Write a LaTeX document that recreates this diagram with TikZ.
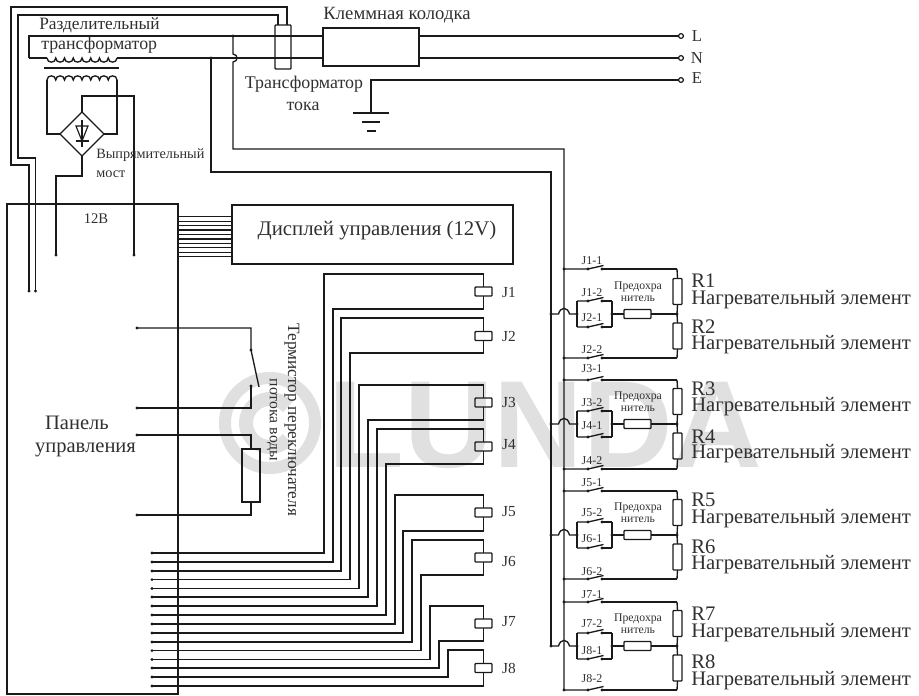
\documentclass[tikz,border=0pt]{standalone}
\usepackage{fontspec}
\usetikzlibrary{shapes.geometric}
\setmainfont{Liberation Serif}
\newfontfamily\wmfont{Liberation Sans}[BoldFont={Liberation Sans Bold}]
\definecolor{ink}{HTML}{1A1A1A}
\definecolor{txt}{HTML}{303030}
\definecolor{wm}{HTML}{E0E0E0}
\tikzset{
  wire/.style={draw=ink,line width=1pt,line join=miter},
  rbox/.style 2 args={draw=ink,line width=1pt,inner sep=0pt,outer sep=0pt,rounded corners=0.6pt,minimum width=#1*0.75pt,minimum height=#2*0.75pt},
  dot/.style={circle,fill=ink,inner sep=0pt,outer sep=0pt,minimum size=2.4pt},
  term/.style={circle,draw=ink,fill=white,line width=0.9pt,inner sep=0pt,outer sep=0pt,minimum size=3.6pt},
  lab/.style={text=txt,inner sep=0pt,font=\fontsize{#1}{#1}\selectfont},
  lab/.default=12pt,
}
\newcommand{\jswitch}[4]{% name, y, left end, right end
  \node[dot] (#1l) at (588,#2) {};
  \node[dot] (#1r) at (602,#2) {};
  \coordinate (#1b) at (603.5,#2-3.5);
  \draw[wire] (#3) -- (#1l.center) -- (#1b);
  \draw[wire] (#1r.center) -- (#4);
}
\newcommand{\heatgroup}[5]{% a, b, yTop, yMid, yBot
  \pgfmathsetmacro{\yT}{#3}\pgfmathsetmacro{\yM}{#4}\pgfmathsetmacro{\yB}{#5}
  \pgfmathsetmacro{\yUp}{\yM-13}\pgfmathsetmacro{\yDn}{\yM+13}
  \node[dot] (busT#1) at (564,\yT) {};
  \node[dot] (busB#1) at (564,\yB) {};
  \node[dot] (n#1) at (551,\yM) {};
  \node[dot] (lj#1) at (577,\yM) {};
  \node[dot] (rj#1) at (612,\yM) {};
  \node[dot] (cj#1) at (677,\yM) {};
  \coordinate (ul#1) at (577,\yUp);\coordinate (ur#1) at (612,\yUp);
  \coordinate (dl#1) at (577,\yDn);\coordinate (dr#1) at (612,\yDn);
  \coordinate (rt#1) at (677,\yT);\coordinate (rb#1) at (677,\yB);
  \node[rbox={9}{26}] (R#1) at (677.5,\yM-22.5) {};
  \node[rbox={9}{26}] (R#2) at (677.5,\yM+22) {};
  \node[rbox={27}{9}] (F#1) at (637.5,\yM) {};
  \jswitch{sA#1}{\yT}{busT#1.center}{rt#1}
  \jswitch{sB#1}{\yUp}{ul#1}{ur#1}
  \jswitch{sC#1}{\yDn}{dl#1}{dr#1}
  \jswitch{sD#1}{\yB}{busB#1.center}{rb#1}
  \draw[wire] (rt#1) -- (R#1.north);
  \draw[wire] (R#1.south) -- (cj#1.center) -- (R#2.north);
  \draw[wire] (R#2.south) -- (rb#1);
  \draw[wire] (ul#1) -- (dl#1);
  \draw[wire] (ur#1) -- (dr#1);
  \draw[wire] (rj#1.center) -- (F#1.west);
  \draw[wire] (F#1.east) -- (cj#1.center);
  \draw[wire] (n#1.center) -- (558.5,\yM) .. controls (560.5,\yM-7.5) and (567.5,\yM-7.5) .. (569.5,\yM) -- (lj#1.center);
  \node[lab=8.8pt] (ft#1) at (638,\yM-27) {Предохра};
  \node[lab=8.8pt] (fb#1) at (638,\yM-15) {нитель};
}
\newcommand{\relay}[2]{% n, yCoilCentre
  \node[rbox={17}{9}] (coil#1) at (483.5,#2) {};
}
\begin{document}
\begin{tikzpicture}[x=0.75pt,y=-0.75pt]
\useasboundingbox (0,0) rectangle (919,695);
% watermark
\coordinate (wmc) at (270,423);
\draw[wm,line width=9pt] (wmc) circle[radius=33.75pt];
\draw[wm,line width=10.5pt] (wmc) ++(42:18pt) arc[start angle=42,end angle=318,radius=18pt];
\node[text=wm,inner sep=0pt,anchor=base west] (mark) at (328,467) {\wmfont\bfseries\fontsize{93pt}{93pt}\selectfont LUNDA};

% boxes
\node[rbox={171}{490},rounded corners=0pt] (panel) at (92.5,449) {};
\node[rbox={281}{59},rounded corners=0pt] (display) at (372.5,234.5) {};
\node[rbox={16}{44}] (ct) at (283,47) {};
\node[rbox={96}{38},rounded corners=0pt] (block) at (371,47) {};
\node[diamond,draw=ink,line width=1pt,inner sep=0pt,outer sep=0pt,minimum width=33pt,minimum height=33pt,aspect=1] (bridge) at (82,134) {};

% terminals
\node[term] (tL) at (681,36) {};
\node[term] (tN) at (681,58) {};
\node[term] (tE) at (681,80) {};
\node[lab=12.5pt] (lL) at (697,36) {L};
\node[lab=12.5pt] (lN) at (697,58) {N};
\node[lab=12.5pt] (lE) at (697,78) {E};

% mains
\coordinate (tx1) at (29,36);
\coordinate (tx2) at (29,58);
\coordinate (coilA) at (47,58);
\coordinate (coilB) at (117,58);
\coordinate (blockW1) at (323,36);
\coordinate (blockW2) at (323,58);
\coordinate (blockE1) at (419,36);
\coordinate (blockE2) at (419,58);
\draw[wire] (tx2) -- (tx1) -- (blockW1);
\draw[wire] (tx2) -- (coilA);
\draw[wire] (coilB) -- (blockW2);
\draw[wire] (blockE1) -- (tL);
\draw[wire] (blockE2) -- (tN);
% primary winding
\draw[wire] (coilA)
  \foreach \i in {0,...,7} { .. controls (47+8.75*\i,63.5) and (47+8.75*\i+8.75,63.5) .. (47+8.75*\i+8.75,58) };
\node[inner sep=0pt] (coreL) at (43,68) {};
\node[inner sep=0pt] (coreR) at (120,68) {};
\draw[wire] (coreL) -- (coreR);
% secondary winding
\coordinate (secA) at (47,80);
\coordinate (secB) at (117,80);
\draw[wire] (secA)
  \foreach \i in {0,...,7} { .. controls (47+8.75*\i,74.5) and (47+8.75*\i+8.75,74.5) .. (47+8.75*\i+8.75,80) };
\draw[wire] (secA) |- (bridge.west);
\draw[wire] (secB) |- (bridge.east);
% diode
\coordinate (dTop) at (82,120);
\coordinate (dBot) at (82,147);
\draw[wire,line width=0.9pt] (dTop) -- (dBot);
\draw[wire,line width=0.9pt] (76,126) -- (88,126) -- (82,141) -- cycle;
\draw[wire,line width=0.9pt] (75.5,141) -- (88.5,141);
% DC wires
\node[dot] (dc1) at (134,255) {};
\node[dot] (dc2) at (56,255) {};
\draw[wire] (bridge.north) -- (82,96) -- (134,96) -- (dc1.center);
\draw[wire] (bridge.south) -- (82,176) -- (56,176) -- (dc2.center);
% CT wires
\node[dot] (ct1) at (29,291) {};
\node[dot] (ct2) at (35.5,291) {};
\coordinate (ctTa) at (287,25);
\coordinate (ctTb) at (278,25);
\draw[wire] (ctTa) -- (287,7) -- (11,7) -- (11,165) -- (29,165) -- (ct1.center);
\draw[wire] (ctTb) -- (278,15) -- (18,15) -- (18,158) -- (35.5,158) -- (ct2.center);
% earth
\coordinate (gnd) at (371,113);
\draw[wire] (tE) -- (371,80) -- (gnd);
\draw[wire] (353,113) -- (389,113);
\draw[wire] (362,122) -- (380,122);
\draw[wire] (367,131) -- (376,131);
% feeds
\node[dot] (jL) at (233,36) {};
\node[dot] (jN) at (211,58) {};
\draw[wire] (jL.center) -- (233,54) .. controls (238.5,55) and (238.5,61) .. (233,62) -- (233,149) -- (564,149) -- (564,690);
\draw[wire] (jN.center) -- (211,172) -- (551,172) -- (551,646);

% display cable
\foreach \i in {0,...,9} {
  \coordinate (dw\i) at (178,216.7+\i*4.44);
  \draw[wire,line width=0.9pt] (dw\i) -- (232,216.7+\i*4.44);
}
% flow switch
\node[dot] (sw1) at (137,328) {};
\node[dot] (sw2) at (137,408) {};
\node[dot] (swA) at (251,350) {};
\node[dot] (swB) at (251,386) {};
\coordinate (swT) at (259,387);
\draw[wire] (sw1.center) -- (251,328) -- (swA.center) -- (swT);
\draw[wire] (sw2.center) -- (251,408) -- (swB.center);
% thermistor
\node[rbox={18}{53},rounded corners=0pt] (therm) at (251,475.5) {};
\node[dot] (th1) at (137,435) {};
\node[dot] (th2) at (137,515) {};
\draw[wire] (th1.center) -- (251,435) -- (therm.north);
\draw[wire] (th2.center) -- (251,515) -- (therm.south);

% relays
\relay{1}{291.5}
\relay{2}{336}
\relay{3}{402.5}
\relay{4}{446.5}
\relay{5}{512.5}
\relay{6}{557.5}
\relay{7}{623.5}
\relay{8}{668}
\foreach \n/\ya/\yb/\xa/\xb/\da/\db in {
 1/274/309/324/333/553/562,
 2/318/353/341/350/571/579.6,
 3/385/420/359/368/588.5/597,
 4/429/464/377/386/606/615,
 5/495/531/395/403/624/633,
 6/540/575/412/421/642/650.6,
 7/606/641/430/439/659.5/668,
 8/650/686/448/483.5/677/686}{
  \node[dot] (pa\n) at (152,\da) {};
  \node[dot] (pb\n) at (152,\db) {};
  \draw[wire] (pa\n.center) -- (\xa,\da) -- (\xa,\ya) -- (483.5,\ya) -- (coil\n.north);
  \draw[wire] (pb\n.center) -- (\xb,\db) -- (\xb,\yb) -- (483.5,\yb) -- (coil\n.south);
}
\foreach \n/\y in {1/293,2/336,3/402,4/445,5/512,6/561,7/622,8/668}{
  \node[lab=11.5pt] (jl\n) at (509,\y) {J\n};
}

% heater groups
\heatgroup{1}{2}{269}{314}{358}
\heatgroup{3}{4}{380}{424}{469}
\heatgroup{5}{6}{491}{535}{579}
\heatgroup{7}{8}{602}{646}{690}

% switch labels
\foreach \t/\y in {J1-1/261,J1-2/293,J2-1/318,J2-2/350,J3-1/369,J3-2/403,J4-1/426,J4-2/461,J5-1/483,J5-2/513,J6-1/539,J6-2/572,J7-1/595,J7-2/624,J8-1/651,J8-2/679}{
  \node[lab=9pt] (sl\t) at (592,\y) {\t};
}
% heater labels
\foreach \n/\ya/\yb in {1/281/300,2/327/345,3/389/407,4/437/454,5/500/519,6/547/565,7/614/633,8/662/681}{
  \node[lab=15.5pt,anchor=west] (rl\n) at (691,\ya) {R\n};
  \node[lab=15.5pt,anchor=west] (rt\n) at (691,\yb) {Нагревательный элемент};
}
% other labels
\node[lab=13pt,anchor=west] (t1) at (39,25) {Разделительный};
\node[lab=13.4pt,anchor=west] (t2) at (41,45) {трансформатор};
\node[lab=14pt] (t3) at (397,15) {Клеммная колодка};
\node[lab=13.4pt] (t4) at (304,84) {Трансформатор};
\node[lab=13.4pt] (t5) at (303,106) {тока};
\node[lab=10.7pt,anchor=west] (t6) at (96,155) {Выпрямительный};
\node[lab=10.7pt,anchor=west] (t7) at (96,174) {мост};
\node[lab=11pt] (t8) at (96,219) {12В};
\node[lab=15.6pt] (t9) at (377,231) {Дисплей управления (12V)};
\node[lab=15.4pt] (t10) at (77,423) {Панель};
\node[lab=15.4pt] (t11) at (85.5,450) {управления};
\node[lab=12.9pt,rotate=-90] (t12) at (292,420) {Термистор переключателя};
\node[lab=11.8pt,rotate=-90] (t13) at (272,420) {потока воды};
\end{tikzpicture}
\end{document}
